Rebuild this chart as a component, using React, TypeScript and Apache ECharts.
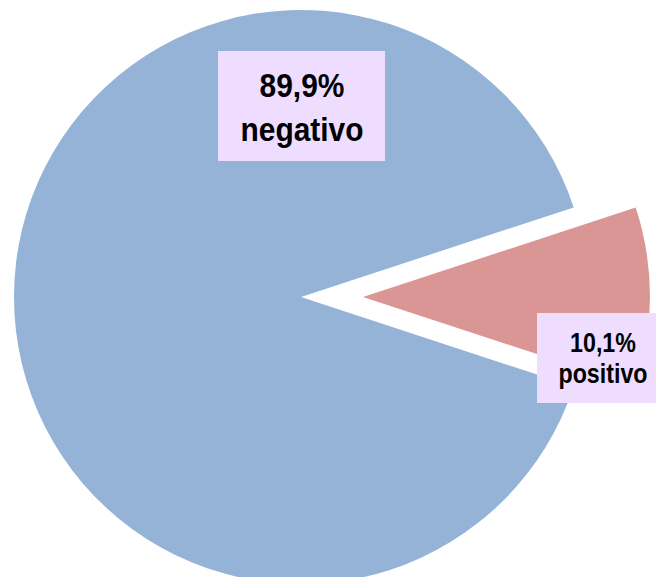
import React, { useEffect, useRef } from "react";
import * as echarts from "echarts";

const categories = ["positivo", "negativo"];
const values = [10.1, 89.9];
const percentLabels = ["10,1%", "89,9%"];
const colors = ["#D99694", "#95B3D7"];

export default function App() {
  const ref = useRef<HTMLDivElement>(null);
  useEffect(() => {
    const chart = echarts.init(ref.current!, null, { renderer: "svg" });
    const total = values[0] + values[1];
    const startAngle = (values[0] / total) * 180;
    // explosion of slice 0 toward its bisector (angle 0 -> right)
    const explode = 62;
    const cx = 301;
    const cy = 297;
    const R = 287;

    const makeSeries = (visibleIndex: number, center: number[]) => ({
      type: "pie",
      center,
      radius: [0, R],
      startAngle,
      clockwise: true,
      silent: true,
      emphasis: { disabled: true },
      label: { show: false },
      labelLine: { show: false },
      data: categories.map((c, i) => ({
        name: c,
        value: values[i],
        itemStyle: { color: i === visibleIndex ? colors[i] : "rgba(0,0,0,0)" },
      })),
    });

    const boxes = [
      { x: 537, y: 313, w: 120, h: 90, tx: 603, ty: 358, fs: 27, lh: 31, sx: 0.86 },
      { x: 218, y: 51, w: 167, h: 110, tx: 302, ty: 107, fs: 34, lh: 44, sx: 0.88 },
    ];
    const graphics: any[] = [];
    categories.forEach((c, i) => {
      const b = boxes[i];
      graphics.push({
        type: "rect",
        shape: { x: b.x, y: b.y, width: b.w, height: b.h },
        style: { fill: "#EEDDFF" },
        z: 10,
      });
      graphics.push({
        type: "text",
        x: b.tx,
        y: b.ty,
        scaleX: b.sx,
        z: 11,
        style: {
          text: percentLabels[i] + "\n" + c,
          fill: "#000",
          fontSize: b.fs,
          lineHeight: b.lh,
          fontWeight: "bold",
          fontFamily: "'Liberation Sans', Arial, sans-serif",
          align: "center",
          verticalAlign: "middle",
        },
      });
    });

    chart.setOption({
      animation: false,
      series: [makeSeries(1, [cx, cy]), makeSeries(0, [cx + explode, cy])],
      graphic: graphics,
    });
    return () => chart.dispose();
  }, []);
  return (
    <div
      ref={ref}
      style={{ position: "fixed", left: 0, top: 0, width: 656, height: 577, background: "#fff" }}
    />
  );
}
